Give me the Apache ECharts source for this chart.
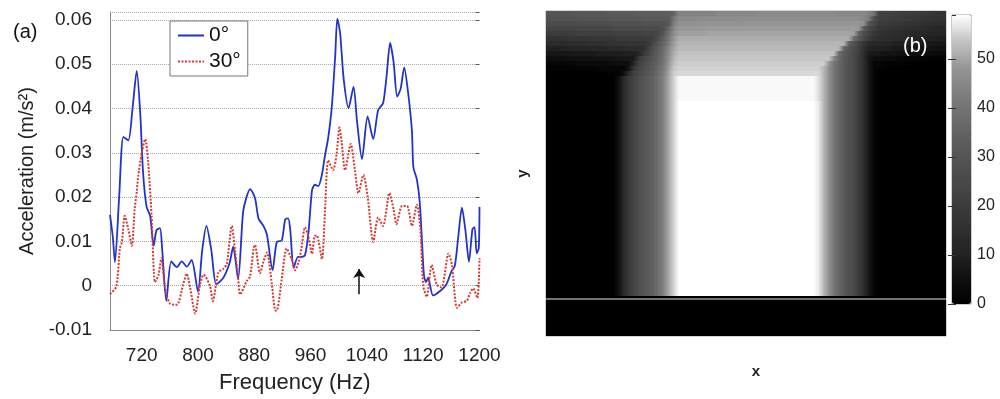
<!DOCTYPE html>
<html><head><meta charset="utf-8">
<script src="https://cdn.jsdelivr.net/npm/echarts@6/dist/echarts.min.js"></script>
<style>html,body{margin:0;padding:0;background:#fff}#c{width:1000px;height:399px}</style>
</head><body><div id="c"></div>
<script>
// ---------- panel (a) data ----------
const freqTicks = [720, 800, 880, 960, 1040, 1120, 1200];
const freq0 = [675,679,682,688,694,701,707,713,718,722,
  727,732,737,741,746,749,755,762,770,777,
  784,791,800,806,812,819,826,836,845,850,
  857,864,869,874,881,886,893,898,906,912,
  919,924,928,931,936,942,947,952,957,962,
  966,971,976,980,985,990,995,998,1002,1007,
  1014,1021,1026,1033,1041,1049,1056,1063,1068,1073,
  1078,1083,1088,1093,1099,1104,1106,1111,1115,1118,
  1121,1124,1127,1134,1144,1153,1160,1165,1170,1175,
  1180,1185,1190,1193,1196,1199,1200];
const acc0 = [0.0160,0.0110,0.0053,0.0200,0.0336,0.0328,0.0400,0.0485,0.0388,0.0255,
  0.0178,0.0158,0.0090,0.0125,0.0130,0.0085,-0.0034,0.0055,0.0042,0.0055,
  0.0043,0.0058,-0.0013,0.0080,0.0135,0.0080,0.0003,0.0018,0.0052,0.0088,
  0.0015,0.0165,0.0200,0.0218,0.0198,0.0152,0.0135,0.0115,0.0035,0.0099,
  0.0102,0.0150,0.0152,0.0128,0.0040,0.0065,0.0065,0.0069,0.0120,0.0215,
  0.0228,0.0225,0.0250,0.0290,0.0334,0.0401,0.0519,0.0603,0.0570,0.0467,
  0.0401,0.0449,0.0371,0.0286,0.0382,0.0331,0.0397,0.0412,0.0474,0.0548,
  0.0504,0.0427,0.0445,0.0493,0.0430,0.0349,0.0268,0.0240,0.0190,0.0110,
  0.0025,0.0008,0.0018,-0.0022,-0.0012,0.0003,0.0032,0.0045,0.0113,0.0176,
  0.0125,0.0054,0.0128,0.0132,0.0073,0.0085,0.0178];
const freq30 = [675,684,689,692,696,701,706,710,713,715,
  720,725,729,734,739,744,748,753,760,770,
  779,784,789,796,803,808,817,821,829,836,
  841,848,853,857,860,869,874,879,881,888,
  893,898,905,910,912,919,926,933,938,943,
  947,952,957,962,966,969,976,981,985,992,
  997,1001,1004,1009,1017,1023,1028,1035,1041,1049,
  1056,1063,1072,1078,1082,1090,1097,1104,1111,1116,
  1120,1125,1132,1139,1146,1156,1161,1168,1175,1182,
  1187,1191,1197,1200];
const acc30 = [-0.0019,-0.0002,0.0084,0.0099,0.0158,0.0128,0.0090,0.0172,0.0213,0.0246,
  0.0298,0.0331,0.0283,0.0160,0.0008,0.0025,0.0062,-0.0003,-0.0040,-0.0043,
  0.0003,0.0027,-0.0005,-0.0063,0.0003,0.0025,0.0000,-0.0035,0.0030,0.0038,
  0.0050,0.0135,0.0075,0.0018,-0.0020,0.0010,0.0021,0.0084,0.0092,0.0028,
  0.0054,0.0075,0.0003,-0.0056,-0.0056,0.0015,0.0084,0.0060,0.0035,0.0054,
  0.0084,0.0132,0.0110,0.0072,0.0113,0.0113,0.0060,0.0187,0.0283,0.0261,
  0.0298,0.0357,0.0327,0.0261,0.0320,0.0261,0.0209,0.0250,0.0202,0.0099,
  0.0154,0.0135,0.0209,0.0172,0.0139,0.0180,0.0180,0.0135,0.0183,0.0128,
  0.0000,-0.0025,0.0047,0.0003,-0.0004,0.0073,0.0045,-0.0050,-0.0038,-0.0034,
  -0.0015,-0.0006,-0.0028,0.0062];
const arrowFreq = 1029, arrowFrom = -0.0019, arrowTo = 0.0038;

// ---------- panel (b) image values: 80 columns x 65 rows ----------
const imgTopRows = [
 [30,30,30,30,30,31,31,31,31,31, 31,31,32,32,32,32,32,32,33,33, 33,33,33,33,33,35,44,44,44,44, 44,44,44,44,45,45,45,45,45,45, 45,45,46,46,46,46,46,46,46,46, 46,46,46,46,46,46,46,46,45,45, 45,45,45,45,43,40,23,22,22,21, 21,20,20,19,19,18,18,17,17,17],
 [29,29,29,29,29,29,30,30,30,30, 30,30,30,31,31,31,31,31,31,32, 32,32,32,32,32,40,45.5,45.5,45.5,45.5, 46,46,46,46,46,46,46,46,46.5,46.5, 46.5,46.5,46.5,46.5,46.5,46.5,46.5,46.5,46.5,46.5, 46.5,46.5,46.5,46.5,46.5,46.5,46.5,46.5,46.5,46.5, 46.5,46.5,46,45,42,28,22,21,21,20, 20,19,19,18,18,17,17,16,16,16],
 [26,26,26,26,26,26,27,27,27,27, 27,27,27,28,28,28,28,28,28,29, 29,29,29,29,31,43,47,47,47,47, 47.5,47.5,47.5,47.5,47.5,47.5,47.5,47.5,47.5,47.5, 48,48,48,48,48,48,48,48,48,48, 48,48,48,48,48,48,48,48,48,48, 48,48,48,47,30,25,20,19,19,18, 18,17,17,16,16,15,15,14,14,14],
 [23,23,23,23,23,23,24,24,24,24, 24,24,24,25,25,25,25,25,25,26, 26,26,26,29,36,45,48.5,48.5,48.5,48.5, 48.5,48.5,49,49,49,49,49,49,49,49, 49,49,49,49,49,49,49,49,49,49, 49,49,49,49,49,49,49,49,49,49, 49,49,48.5,32,25,21,18,17,17,16, 16,15,15,14,14,13,13,12,12,12],
 [20,20,20,20,20,20,21,21,21,21, 21,21,21,22,22,22,22,22,22,23, 23,23,25,31,39,46,49.5,49.5,49.5,49.5, 49.5,49.5,50,50,50,50,50,50,50,50, 50,50,50,50,50,50,50,50,50,50, 50,50,50,50,50,50,50,50,50,50, 50,49.5,34,27,22,18,16,15,15,14, 14,13,13,12,12,12,11,11,11,11],
 [16,16,16,16,17,17,17,17,17,18, 18,18,18,18,19,19,19,19,19,20, 20,22,28,34,41,48,51,51,51,51, 51,51,51,51,51,51,51,51,51,51, 51,51,51,51,51,51,51,51,51,51, 51,51,51,51,51,51,51,51,51,51, 51,38,31,25,19,16,15,14,14,13, 13,12,12,11,11,10,10,10,9,9],
 [13,13,13,13,14,14,14,14,15,15, 15,15,16,16,16,16,17,17,17,17, 19,25,31,36,43,49,52,52,52,52, 52,52,52,52,52,52,52,52,52,52, 52,52,52,52,52,52,52,52,52,52, 52,52,52,52,52,52,52,52,52,52, 34,29,23,17,13,12,12,11,11,10, 10,9,9,9,8,8,8,7,7,7],
 [10,10,10,10,11,11,11,11,12,12, 12,12,13,13,13,13,14,14,14,15, 22,28,33,38,45,50,52.5,52.5,52.5,52.5, 52.5,52.5,52.5,52.5,52.5,52.5,52.5,52.5,52.5,52.5, 52.5,52.5,52.5,52.5,52.5,52.5,52.5,52.5,52.5,52.5, 52.5,52.5,52.5,52.5,52.5,52.5,52.5,52.5,52.5,36, 30,26,21,15,11,10,10,9,9,8, 8,7,7,7,6,6,6,5,5,5],
 [7,7,7,7,7,8,8,8,8,8, 9,9,9,9,9,10,10,10,11,18, 24,30,34,39,46,51,53.5,53.5,53.5,53.5, 53.5,53.5,53.5,53.5,53.5,53.5,53.5,53.5,53.5,53.5, 53.5,53.5,53.5,53.5,53.5,53.5,53.5,53.5,53.5,53.5, 53.5,53.5,53.5,53.5,53.5,53.5,53.5,53.5,38,33, 29,25,20,14,8,7,7,6,6,6, 5,5,5,4,4,4,4,3,3,3],
 [4,4,4,4,5,5,5,5,5,6, 6,6,6,6,7,7,7,8,18,23, 27,31,35,40,47,52,54,54,54,54, 54,54,54,54,54,54,54,54,54,54, 54,54,54,54,54,54,54,54,54,54, 54,54,54,54,54,54,54,45,37,32, 28,25,20,14,7,4,4,3,3,3, 2,2,2,2,2,1,1,1,1,1],
 [2,2,2,2,2,2,3,3,3,3, 3,3,3,4,4,4,4,12,21,25, 29,32,36,41,48,53,54.5,54.5,54.5,54.5, 54.5,54.5,54.5,54.5,54.5,54.5,54.5,54.5,54.5,54.5, 54.5,54.5,54.5,54.5,54.5,54.5,54.5,54.5,54.5,54.5, 54.5,54.5,54.5,54.5,54.5,54.5,48,41,36,32, 28,25,20,14,7,2,2,1,1,1, 1,1,1,0,0,0,0,0,0,0],
 [1,1,1,1,1,1,1,1,1,1, 2,2,2,2,2,2,6,18,23,27, 30,33,37,42,49,54,55,55,55,55, 55,55,55,55,55,55,55,55,55,55, 55,55,55,55,55,55,55,55,55,55, 55,55,55,55,55,52,47,41,36,32, 28,25,20,14,7,2,1,1,0,0, 0,0,0,0,0,0,0,0,0,0],
 [0,0,0,0,0,0,0,0,0,0, 0,0,1,1,1,5,14,21,25,28, 31,34,38,43,50,54.5,55.5,55.5,55.5,55.5, 55.5,55.5,55.5,55.5,55.5,55.5,55.5,55.5,55.5,55.5, 55.5,55.5,55.5,55.5,55.5,55.5,55.5,55.5,55.5,55.5, 55.5,55.5,55.5,55.5,55.5,52,47,41,36,32, 28,25,20,14,7,2,0,0,0,0, 0,0,0,0,0,0,0,0,0,0]
];
const imgWallRowUpper = [0,0,0,0,0,0,0,0,0,0, 0,0,0,0,5,13,18.5,23,27,30, 32.5,35,39,44,50.5,55,58.5,58.5,58.5,58.5, 58.5,58.5,58.5,58.5,58.5,58.5,58.5,58.5,58.5,58.5, 58.5,58.5,58.5,58.5,58.5,58.5,58.5,58.5,58.5,58.5, 58.5,58.5,58.5,58.5,56,52,47,41,36,32, 28,25,20,14,7,2,0,0,0,0, 0,0,0,0,0,0,0,0,0,0];
const imgWallRow = [0,0,0,0,0,0,0,0,0,0, 0,0,0,0,5,13,18.5,23,27,30, 32.5,35,39,44,50.5,55,59,59,59,59, 59,59,59,59,59,59,59,59,59,59, 59,59,59,59,59,59,59,59,59,59, 59,59,59,59,57,52,47,41,36,32, 28,25,20,14,7,2,0,0,0,0, 0,0,0,0,0,0,0,0,0,0];
const imgFloorRow = [0,0,0,0,0,0,0,0,0,0, 0,0,0,0,0,0,0,0,0,0, 0,0,0,0,0,0,0,0,0,0, 0,0,0,0,0,0,0,0,0,0, 0,0,0,0,0,0,0,0,0,0, 0,0,0,0,0,0,0,0,0,0, 0,0,0,0,0,0,0,0,0,0, 0,0,0,0,0,0,0,0,0,0];
const upperWallRowCount = 5, wallRowCount = 39, floorRowCount = 8;
const colorbarMin = 0, colorbarMax = 59;
const grayStops = ['#000000','#111111','#242424','#323232','#404040','#4d4d4d','#5a5a5a','#6b6b6b','#7e7e7e','#969696','#c3c3c3','#ffffff'];

// ---------- build ----------
const imgRows = [].concat(imgTopRows,
  Array(upperWallRowCount).fill(imgWallRowUpper),
  Array(wallRowCount).fill(imgWallRow),
  Array(floorRowCount).fill(imgFloorRow));
const nCols = imgWallRow.length, nRows = imgRows.length;
const heatData = [];
imgRows.forEach((row, r) => row.forEach((v, c) => heatData.push([c, r, v])));
const colIdx = Array.from({length: nCols}, (_, i) => String(i));
const rowIdx = Array.from({length: nRows}, (_, i) => String(i));
const lineRowLabel = String(imgTopRows.length + upperWallRowCount + wallRowCount);

// each cell is painted from its centre to the next cell's centre,
// shading between the two colours that the visualMap gives them
function renderCell(params, api) {
  const c = api.value(0), r = api.value(1);
  const idx = params.dataIndexInside;
  const p = api.coord([c, r]);
  const sz = api.size([1, 1]);
  const w = sz[0], h = sz[1];
  const col = api.visual('color');
  const last = c >= nCols - 1;
  const colNext = last ? col : api.visual('color', idx + 1);
  let x0 = p[0], x1 = last ? p[0] + w / 2 : p[0] + w;
  let stops = [{offset: 0, color: col}, {offset: 1, color: colNext}];
  if (c === 0) {
    x0 = p[0] - w / 2;
    stops = [{offset: 0, color: col}, {offset: 1 / 3, color: col}, {offset: 1, color: colNext}];
  }
  return {
    type: 'rect',
    shape: {x: x0, y: p[1] - h / 2, width: x1 - x0 + 0.7, height: h + 0.7},
    style: {fill: new echarts.graphic.LinearGradient(0, 0, 1, 0, stops)}
  };
}

const FF = '"Liberation Sans", Arial, Helvetica, sans-serif';
const chart = echarts.init(document.getElementById('c'), null, {renderer: 'canvas'});
chart.setOption({
  animation: false,
  textStyle: {fontFamily: FF},
  title: [
    {text: '(a)', left: 13, top: 22, padding: 0, textStyle: {fontSize: 20, fontWeight: 'normal', color: '#111', fontFamily: FF}},
    {text: '(b)', left: 903, top: 36, padding: 0, textStyle: {fontSize: 20, fontWeight: 'normal', color: '#fff', fontFamily: FF}}
  ],
  legend: {
    data: ['0°', '30°'], left: 170, top: 21, orient: 'vertical',
    padding: [4, 7, 4, 7], itemGap: 5, itemWidth: 26, itemHeight: 14,
    itemStyle: {opacity: 0},
    borderColor: '#777', borderWidth: 1, backgroundColor: '#fff', borderRadius: 0,
    textStyle: {fontSize: 21, color: '#111', fontFamily: FF}
  },
  grid: [
    {left: 110, top: 12, width: 369.5, height: 323.7},
    {left: 546, top: 11, width: 400, height: 325, show: true, borderColor: '#aaa', borderWidth: 1, backgroundColor: '#000'},
    {left: 952, top: 15, width: 19, height: 289, show: true, borderColor: '#999', borderWidth: 1, backgroundColor: 'transparent'}
  ],
  xAxis: [
    {type: 'value', gridIndex: 0, min: 675, max: 1200,
     axisLine: {show: true, onZero: false, lineStyle: {color: '#888', width: 1}},
     axisTick: {show: false}, splitLine: {show: false},
     axisLabel: {customValues: freqTicks, fontSize: 19, color: '#222', margin: 16, fontFamily: FF,
       formatter: v => String(v)},
     name: 'Frequency (Hz)', nameLocation: 'middle', nameGap: 42,
     nameTextStyle: {fontSize: 22, color: '#222', fontFamily: FF}},
    {type: 'category', gridIndex: 1, data: colIdx,
     axisLine: {show: false}, axisTick: {show: false}, axisLabel: {show: false}, splitLine: {show: false},
     name: 'x', nameLocation: 'middle', nameGap: 28,
     nameTextStyle: {fontSize: 15, fontWeight: 'bold', color: '#222', fontFamily: FF, padding: [0, 0, 0, 20]}},
    {type: 'value', gridIndex: 2, show: false}
  ],
  yAxis: [
    {type: 'value', gridIndex: 0, min: -0.01, max: 0.0618, interval: 0.01,
     axisLine: {show: true, onZero: false, lineStyle: {color: '#888', width: 1}},
     axisTick: {show: false},
     splitLine: {show: true, lineStyle: {color: '#aaa', type: 'dotted', width: 1}},
     axisLabel: {fontSize: 19, color: '#222', margin: 18, fontFamily: FF,
       formatter: v => Math.abs(v) < 1e-9 ? '0' : v.toFixed(2)},
     name: 'Acceleration (m/s²)', nameLocation: 'middle', nameGap: 73,
     nameTextStyle: {fontSize: 20, color: '#222', fontFamily: FF}},
    {type: 'value', gridIndex: 0, position: 'right', min: -0.01, max: 0.0618, interval: 0.01,
     axisLine: {show: false}, axisLabel: {show: false}, splitLine: {show: false},
     axisTick: {show: true, inside: true, length: 4, lineStyle: {color: '#555'}}},
    {type: 'category', gridIndex: 1, data: rowIdx, inverse: true,
     axisLine: {show: false}, axisTick: {show: false}, axisLabel: {show: false}, splitLine: {show: false},
     name: 'y', nameLocation: 'middle', nameGap: 16, nameRotate: 90,
     nameTextStyle: {fontSize: 15, fontWeight: 'bold', color: '#222', fontFamily: FF}},
    {type: 'value', gridIndex: 2, position: 'right', min: colorbarMin, max: colorbarMax, interval: 10, z: 10,
     axisLine: {show: false}, splitLine: {show: false},
     axisTick: {show: true, inside: true, length: 4, lineStyle: {color: '#333'}},
     axisLabel: {fontSize: 16, color: '#222', margin: 6, fontFamily: FF, showMaxLabel: false}},
    {type: 'value', gridIndex: 2, position: 'left', min: colorbarMin, max: colorbarMax, interval: 10, z: 10,
     axisLine: {show: false}, splitLine: {show: false}, axisLabel: {show: false},
     axisTick: {show: true, inside: true, length: 4, lineStyle: {color: '#333'}}}
  ],
  visualMap: {
    type: 'continuous', min: colorbarMin, max: colorbarMax, seriesIndex: 3, dimension: 2,
    left: 952, top: 15, itemWidth: 19, itemHeight: 289, padding: 0,
    calculable: false, hoverLink: false, text: null, showLabel: false,
    inRange: {color: grayStops}
  },
  series: [
    {name: '0°', type: 'line', xAxisIndex: 0, yAxisIndex: 0, symbol: 'none', smooth: 0.25,
     color: '#2233cc', lineStyle: {color: '#2233cc', width: 1.8}, z: 3,
     data: freq0.map((f, i) => [f, acc0[i]])},
    {name: '30°', type: 'line', xAxisIndex: 0, yAxisIndex: 0, symbol: 'none', smooth: 0.25,
     color: '#d43a35', lineStyle: {color: '#d43a35', width: 2, type: [2, 1.5]}, z: 4,
     data: freq30.map((f, i) => [f, acc30[i]])},
    {name: 'arrow', type: 'line', xAxisIndex: 0, yAxisIndex: 0, data: [], silent: true,
     markLine: {silent: true, symbol: ['none', 'arrow'], symbolSize: 9, label: {show: false},
       lineStyle: {color: '#111', type: 'solid', width: 1.5},
       data: [[{coord: [arrowFreq, arrowFrom]}, {coord: [arrowFreq, arrowTo]}]]}},
    {name: 'image', type: 'custom', xAxisIndex: 1, yAxisIndex: 2, data: heatData,
     renderItem: renderCell, encode: {x: 0, y: 1}, progressive: 0, silent: true, clip: true,
     markLine: {silent: true, symbol: 'none', label: {show: false},
       lineStyle: {color: '#9a9a9a', width: 1.5, type: 'solid'},
       data: [{yAxis: lineRowLabel}]}}
  ]
});
</script>
</body></html>
